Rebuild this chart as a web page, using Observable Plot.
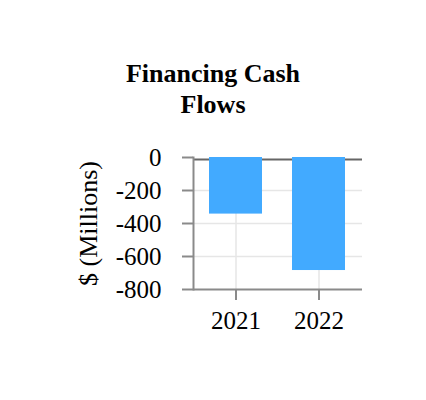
<!DOCTYPE html>
<html><head><meta charset="utf-8">
<script src="https://cdn.jsdelivr.net/npm/d3@7"></script>
<script src="https://cdn.jsdelivr.net/npm/@observablehq/plot@0.6"></script>
<style>
body{margin:0;background:#fff;}
#title{width:426px;padding-top:58px;font:bold 26px/31px "Liberation Serif",serif;text-align:center;color:#000;}
svg{display:block}
</style></head>
<body>
<div id="title">Financing Cash<br>Flows</div>
<div id="chart"></div>
<script>
const years = ["2021", "2022"];
const values = [-343, -685];
const yTicks = [0, -200, -400, -600, -800];
const yGrid = [-200, -400, -600];
const yLabel = "$ (Millions)";
const data = years.map((year, i) => ({year, value: values[i]}));

const chart = Plot.plot({
  width: 426,
  height: 280,
  marginTop: 37,
  marginBottom: 111,
  marginLeft: 193,
  marginRight: 64,
  style: {fontFamily: "'Liberation Serif', serif", fontSize: "25px", background: "#fff", color: "#000"},
  x: {type: "band", domain: years, paddingInner: 0.357, paddingOuter: 0.186, label: null},
  y: {domain: [-800, 0], label: null},
  marks: [
    Plot.gridY(yGrid, {stroke: "#e6e6e6", strokeOpacity: 1, strokeWidth: 1.5}),
    Plot.gridX({stroke: "#e6e6e6", strokeOpacity: 1, strokeWidth: 1.5}),
    Plot.ruleY([0], {stroke: "#666", strokeWidth: 2, dy: 2}),
    Plot.barY(data, {x: "year", y: "value", fill: "#42aaff"}),
    Plot.ruleY([-800], {stroke: "#8a8a8a", strokeWidth: 2}),
    Plot.frame({anchor: "left", stroke: "#8a8a8a", strokeWidth: 2}),
    Plot.axisY({ticks: yTicks, tickSize: 11, tickPadding: 21, tickFormat: d => String(d), fontSize: 25, stroke: "#8a8a8a", strokeWidth: 2, fill: "#000", label: null}),
    Plot.axisX({tickSize: 11, tickPadding: 11, fontSize: 25, stroke: "#8a8a8a", strokeWidth: 2, fill: "#000", label: null}),
    Plot.text([yLabel], {frameAnchor: "left", rotate: -90, dx: -97, textAnchor: "middle", lineAnchor: "bottom", fontSize: 26, fill: "#000"})
  ]
});
document.getElementById("chart").appendChild(chart);
</script>
</body></html>
